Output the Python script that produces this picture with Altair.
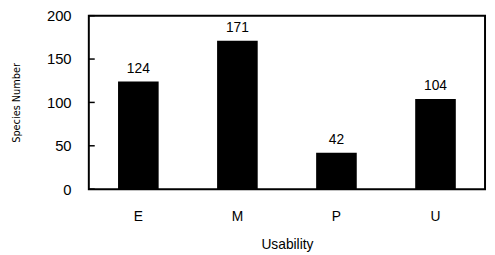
import altair as alt
import pandas as pd

categories = ["E", "M", "P", "U"]
values = [124, 171, 42, 104]
y_ticks = [0, 50, 100, 150, 200]

df = pd.DataFrame({"Usability": categories, "Species": values})
ticks_df = pd.DataFrame({"t": y_ticks})

FONT = "Liberation Sans"

x_enc = alt.X("Usability:N", sort=categories,
              scale=alt.Scale(paddingInner=0.59, paddingOuter=0.295),
              axis=alt.Axis(title="Usability", labelAngle=0, ticks=False, domain=False,
                            labelPadding=21, labelFontSize=14, labelFont=FONT,
                            labelColor="black", titleFont=FONT, titleFontSize=14,
                            titleFontWeight="normal", titlePadding=14, titleColor="black"))
y_scale = alt.Scale(domain=[0, 200])

bars = alt.Chart(df).mark_bar(color="black").encode(
    x=x_enc,
    y=alt.Y("Species:Q", scale=y_scale,
            axis=alt.Axis(title="Species Number", values=y_ticks, ticks=False, domain=False,
                          grid=False, labelPadding=18, labelFontSize=15, labelFont=FONT,
                          labelColor="black", titleFont="DejaVu Sans Condensed",
                          titleFontSize=11, titleFontWeight="normal", titlePadding=25,
                          titleColor="black")),
)

text = alt.Chart(df).mark_text(baseline="alphabetic", dy=-9, fontSize=14, font=FONT,
                               color="black").encode(
    x=alt.X("Usability:N", sort=categories),
    y=alt.Y("Species:Q", scale=y_scale),
    text=alt.Text("Species:Q"),
)

tick_marks = alt.Chart(ticks_df).mark_rule(color="black", strokeWidth=1.5).encode(
    x=alt.value(0), x2=alt.value(6),
    y=alt.Y("t:Q", scale=y_scale),
)

chart = alt.layer(bars, text, tick_marks).properties(
    width=402, height=176,
    autosize=alt.AutoSizeParams(type="none"),
    padding={"left": 82, "top": 6, "right": 2, "bottom": 64},
).configure_view(stroke="black", strokeWidth=2).configure_axis(grid=False)

chart.save("out.html", embed_options={"renderer": "svg", "actions": False})
